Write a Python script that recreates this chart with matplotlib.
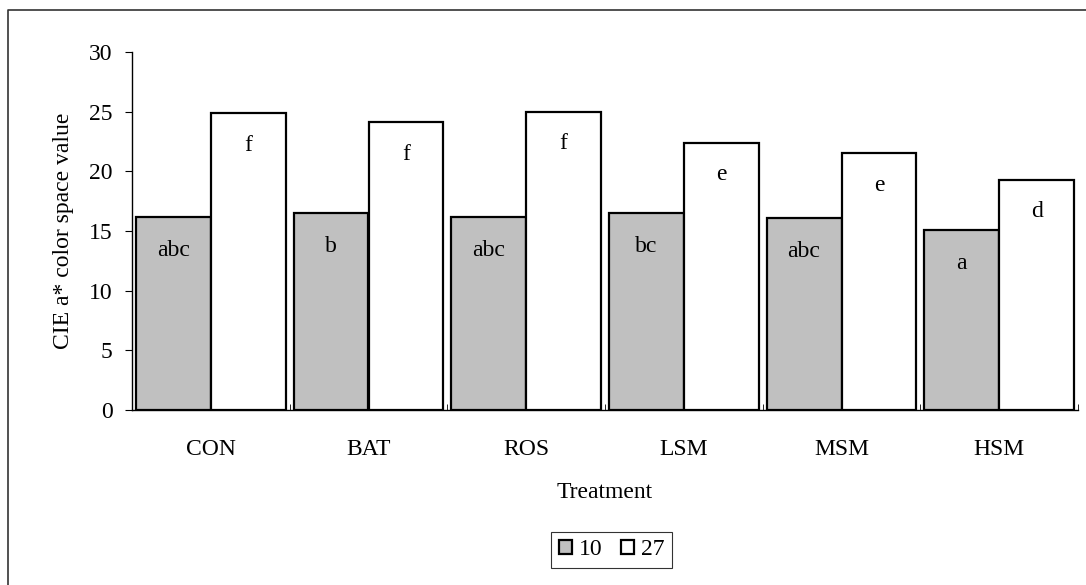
#!/usr/bin/env python3
"""
CIE a* colour space value by treatment, two groups (10 and 27)
"""
import matplotlib.pyplot as plt
from matplotlib.lines import Line2D
import numpy as np

treatments = ['CON', 'BAT', 'ROS', 'LSM', 'MSM', 'HSM']
series_names = ['10', '27']
vals_10 = [16.2, 16.5, 16.2, 16.5, 16.1, 15.1]
vals_27 = [24.85, 24.1, 25.0, 22.4, 21.5, 19.3]
letters_10 = ['abc', 'b', 'abc', 'bc', 'abc', 'a']
letters_27 = ['f', 'f', 'f', 'e', 'e', 'd']
yticks = [0, 5, 10, 15, 20, 25, 30]


def format_plotting():
    plt.rcParams['font.family'] = ['Liberation Serif', 'DejaVu Serif']
    plt.rcParams['font.size'] = 17
    plt.rcParams['axes.linewidth'] = 1


def main():
    format_plotting()
    fig = plt.figure(figsize=(10.86, 5.85), dpi=100)
    ax = fig.add_axes([132 / 1086, 1 - 410 / 585, (1078 - 132) / 1086, (410 - 52) / 585])

    x = np.arange(len(treatments))
    w = 0.475
    b1 = ax.bar(x - w / 2, vals_10, w, color='#c0c0c0', edgecolor='black',
                linewidth=1.6, label=series_names[0], zorder=3)
    b2 = ax.bar(x + w / 2, vals_27, w, color='white', edgecolor='black',
                linewidth=1.6, label=series_names[1], zorder=3)

    for xi, v, t in zip(x, vals_10, letters_10):
        ax.text(xi - w / 2, v - 2.8, t, ha='center', va='center', zorder=4)
    for xi, v, t in zip(x, vals_27, letters_27):
        ax.text(xi + w / 2, v - 2.7, t, ha='center', va='center', zorder=4)

    ax.set_xlim(-0.5, len(treatments) - 0.5)
    ax.set_ylim(0, 30)
    ax.set_yticks(yticks)
    ax.set_xticks(x)
    ax.set_xticklabels(treatments)
    ax.set_xticks(np.arange(-0.5, len(treatments)), minor=True)
    ax.tick_params(axis='x', which='major', length=0, pad=21)
    ax.tick_params(axis='x', which='minor', length=4, direction='in')
    ax.tick_params(axis='y', length=5, direction='out', pad=9)

    ax.spines['top'].set_visible(False)
    ax.spines['right'].set_visible(False)

    ax.set_ylabel('CIE a* color space value', labelpad=11)
    ax.set_xlabel('Treatment', labelpad=16)

    leg = ax.legend(handles=[b1, b2], loc='center', bbox_to_anchor=(0.507, -0.391),
                    ncol=2, frameon=True, fancybox=False, handlelength=0.55,
                    handleheight=0.55, handletextpad=0.3, columnspacing=0.8,
                    borderpad=0.3, borderaxespad=0)
    leg.get_frame().set_edgecolor('black')
    leg.get_frame().set_linewidth(0.8)

    # outer chart border: only left and top edges fall inside the image
    fig.add_artist(Line2D([8 / 1086, 8 / 1086, 1.0], [0.0, 1 - 10 / 585, 1 - 10 / 585],
                          transform=fig.transFigure, color='#333333', linewidth=1.2))

    fig.savefig('out.png', dpi=100)


if __name__ == "__main__":
    main()
